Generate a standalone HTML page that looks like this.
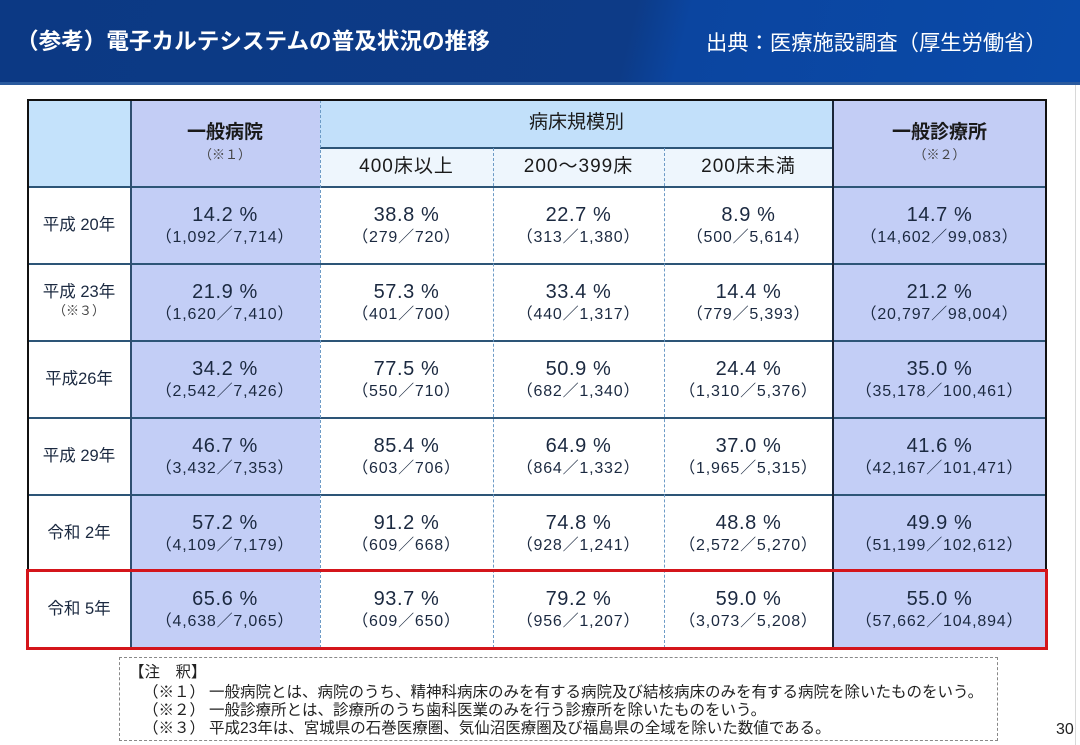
<!DOCTYPE html>
<html><head><meta charset="utf-8">
<style>
html,body{margin:0;padding:0}
body{width:1080px;height:745px;position:relative;overflow:hidden;background:#fff;font-family:"Liberation Sans","Noto Sans CJK JP",sans-serif;}
.a{position:absolute}
.hdr{left:0;top:0;width:1080px;height:82px;background:linear-gradient(104deg,#0c3984 0%,#0d3b87 58%,#0b45a0 63%,#0a4aa8 100%);}
.hdr2{left:0;top:82px;width:1080px;height:3px;background:#2a5a9e}
.title{left:16px;top:27px;font-size:22.6px;font-weight:bold;color:#fff;line-height:30px;white-space:nowrap}
.src{left:706px;top:29px;font-size:21.3px;color:#fff;line-height:28px;white-space:nowrap}
.bg{position:absolute}
.c{position:absolute;text-align:center;color:#1b2940;height:77px}
.p{position:absolute;left:0;right:0;top:17px;font-size:20px;line-height:22px;letter-spacing:0.6px;white-space:nowrap}
.f{position:absolute;left:0;right:0;top:41px;font-size:16px;line-height:20px;letter-spacing:0.8px;white-space:nowrap}
.y{position:absolute;left:28px;width:102px;text-align:center;color:#1b2940;font-size:16.5px;white-space:nowrap}
.hl{position:absolute;height:2px;background:#2d5577}
.dv{position:absolute;width:0;border-left:1px dashed #6d9bc6}
.note{font-size:15.5px;color:#222;white-space:nowrap;line-height:18px}
</style></head><body>
<div class="a hdr"></div>
<div class="a hdr2"></div>
<div class="a title">（参考）電子カルテシステムの普及状況の推移</div>
<div class="a src">出典：医療施設調査（厚生労働省）</div>
<div class="a" style="left:1075px;top:85px;width:1px;height:660px;background:#d8d8d8"></div>

<!-- header backgrounds -->
<div class="bg" style="left:28px;top:100px;width:102px;height:87px;background:#c4e2fb"></div>
<div class="bg" style="left:130px;top:100px;width:190px;height:87px;background:#c3cdf5"></div>
<div class="bg" style="left:320px;top:100px;width:513px;height:48px;background:#c2e0fa"></div>
<div class="bg" style="left:320px;top:148px;width:513px;height:39px;background:#eef6fd"></div>
<div class="bg" style="left:833px;top:100px;width:213px;height:87px;background:#c3cdf5"></div>
<!-- data column backgrounds -->
<div class="bg" style="left:130px;top:187px;width:190px;height:461px;background:#c3cef6"></div>
<div class="bg" style="left:833px;top:187px;width:213px;height:461px;background:#c3cef6"></div>

<!-- header text -->
<div class="a" style="left:130px;width:190px;top:120px;text-align:center;font-size:19px;font-weight:bold;color:#1a1a1a;line-height:26px">一般病院</div>
<div class="a" style="left:130px;width:190px;top:147px;text-align:center;font-size:13px;color:#444;line-height:16px">（※１）</div>
<div class="a" style="left:833px;width:213px;top:120px;text-align:center;font-size:19px;font-weight:bold;color:#1a1a1a;line-height:26px">一般診療所</div>
<div class="a" style="left:833px;width:213px;top:147px;text-align:center;font-size:13px;color:#444;line-height:16px">（※２）</div>
<div class="a" style="left:320px;width:513px;top:110px;text-align:center;font-size:19px;color:#1a1a1a;line-height:26px">病床規模別</div>
<div class="a" style="left:320px;width:173px;top:154px;text-align:center;font-size:19px;color:#1a1a1a;line-height:26px;letter-spacing:1px">400床以上</div>
<div class="a" style="left:493px;width:171px;top:154px;text-align:center;font-size:19px;color:#1a1a1a;line-height:26px;letter-spacing:1px">200～399床</div>
<div class="a" style="left:664px;width:169px;top:154px;text-align:center;font-size:19px;color:#1a1a1a;line-height:26px;letter-spacing:1px">200床未満</div>

<!-- year labels -->
<div class="y" style="top:214px;line-height:22px">平成 20年</div>
<div class="y" style="top:281px;line-height:22px">平成 23年</div>
<div class="y" style="top:302px;line-height:18px;font-size:13px;color:#444">（※３）</div>
<div class="y" style="top:368px;line-height:22px">平成26年</div>
<div class="y" style="top:445px;line-height:22px">平成 29年</div>
<div class="y" style="top:522px;line-height:22px">令和 2年</div>
<div class="y" style="top:598px;line-height:22px">令和 5年</div>

<!-- row 1 -->
<div class="c" style="top:187px;left:130px;width:190px"><div class="p">14.2 %</div><div class="f">（1,092／7,714）</div></div>
<div class="c" style="top:187px;left:320px;width:173px"><div class="p">38.8 %</div><div class="f">（279／720）</div></div>
<div class="c" style="top:187px;left:493px;width:171px"><div class="p">22.7 %</div><div class="f">（313／1,380）</div></div>
<div class="c" style="top:187px;left:664px;width:169px"><div class="p">8.9 %</div><div class="f">（500／5,614）</div></div>
<div class="c" style="top:187px;left:833px;width:213px"><div class="p">14.7 %</div><div class="f">（14,602／99,083）</div></div>
<!-- row 2 -->
<div class="c" style="top:264px;left:130px;width:190px"><div class="p">21.9 %</div><div class="f">（1,620／7,410）</div></div>
<div class="c" style="top:264px;left:320px;width:173px"><div class="p">57.3 %</div><div class="f">（401／700）</div></div>
<div class="c" style="top:264px;left:493px;width:171px"><div class="p">33.4 %</div><div class="f">（440／1,317）</div></div>
<div class="c" style="top:264px;left:664px;width:169px"><div class="p">14.4 %</div><div class="f">（779／5,393）</div></div>
<div class="c" style="top:264px;left:833px;width:213px"><div class="p">21.2 %</div><div class="f">（20,797／98,004）</div></div>
<!-- row 3 -->
<div class="c" style="top:341px;left:130px;width:190px"><div class="p">34.2 %</div><div class="f">（2,542／7,426）</div></div>
<div class="c" style="top:341px;left:320px;width:173px"><div class="p">77.5 %</div><div class="f">（550／710）</div></div>
<div class="c" style="top:341px;left:493px;width:171px"><div class="p">50.9 %</div><div class="f">（682／1,340）</div></div>
<div class="c" style="top:341px;left:664px;width:169px"><div class="p">24.4 %</div><div class="f">（1,310／5,376）</div></div>
<div class="c" style="top:341px;left:833px;width:213px"><div class="p">35.0 %</div><div class="f">（35,178／100,461）</div></div>
<!-- row 4 -->
<div class="c" style="top:418px;left:130px;width:190px"><div class="p">46.7 %</div><div class="f">（3,432／7,353）</div></div>
<div class="c" style="top:418px;left:320px;width:173px"><div class="p">85.4 %</div><div class="f">（603／706）</div></div>
<div class="c" style="top:418px;left:493px;width:171px"><div class="p">64.9 %</div><div class="f">（864／1,332）</div></div>
<div class="c" style="top:418px;left:664px;width:169px"><div class="p">37.0 %</div><div class="f">（1,965／5,315）</div></div>
<div class="c" style="top:418px;left:833px;width:213px"><div class="p">41.6 %</div><div class="f">（42,167／101,471）</div></div>
<!-- row 5 -->
<div class="c" style="top:495px;left:130px;width:190px"><div class="p">57.2 %</div><div class="f">（4,109／7,179）</div></div>
<div class="c" style="top:495px;left:320px;width:173px"><div class="p">91.2 %</div><div class="f">（609／668）</div></div>
<div class="c" style="top:495px;left:493px;width:171px"><div class="p">74.8 %</div><div class="f">（928／1,241）</div></div>
<div class="c" style="top:495px;left:664px;width:169px"><div class="p">48.8 %</div><div class="f">（2,572／5,270）</div></div>
<div class="c" style="top:495px;left:833px;width:213px"><div class="p">49.9 %</div><div class="f">（51,199／102,612）</div></div>
<!-- row 6 -->
<div class="c" style="top:571px;left:130px;width:190px"><div class="p">65.6 %</div><div class="f">（4,638／7,065）</div></div>
<div class="c" style="top:571px;left:320px;width:173px"><div class="p">93.7 %</div><div class="f">（609／650）</div></div>
<div class="c" style="top:571px;left:493px;width:171px"><div class="p">79.2 %</div><div class="f">（956／1,207）</div></div>
<div class="c" style="top:571px;left:664px;width:169px"><div class="p">59.0 %</div><div class="f">（3,073／5,208）</div></div>
<div class="c" style="top:571px;left:833px;width:213px"><div class="p">55.0 %</div><div class="f">（57,662／104,894）</div></div>

<!-- lines -->
<div class="hl" style="left:320px;top:147px;width:513px"></div>
<div class="hl" style="left:28px;top:186px;width:1018px"></div>
<div class="hl" style="left:28px;top:263px;width:1018px"></div>
<div class="hl" style="left:28px;top:340px;width:1018px"></div>
<div class="hl" style="left:28px;top:417px;width:1018px"></div>
<div class="hl" style="left:28px;top:494px;width:1018px"></div>
<div class="hl" style="left:28px;top:570px;width:1018px"></div>
<div class="a" style="left:130px;top:100px;width:2px;height:548px;background:#2f4f70"></div>
<div class="dv" style="left:320px;top:100px;height:548px"></div>
<div class="dv" style="left:493px;top:148px;height:500px"></div>
<div class="dv" style="left:664px;top:148px;height:500px"></div>
<div class="a" style="left:832px;top:100px;width:2px;height:548px;background:#1a2638"></div>
<div class="a" style="left:28px;top:99px;width:1019px;height:2px;background:#111"></div>
<div class="a" style="left:27px;top:99px;width:2px;height:551px;background:#111"></div>
<div class="a" style="left:1045px;top:99px;width:2px;height:551px;background:#111"></div>
<div class="a" style="left:27px;top:647px;width:1020px;height:2px;background:#111"></div>
<!-- red box -->
<div class="a" style="left:26px;top:569px;width:1022px;height:81px;box-sizing:border-box;border:3px solid #d4151b"></div>

<!-- notes -->
<div class="a" style="left:119px;top:657px;width:879px;height:84px;box-sizing:border-box;border:1px dashed #888"></div>
<div class="a note" style="left:129px;top:664px">【注　釈】</div>
<div class="a note" style="left:143px;top:684px">（※１）</div>
<div class="a note" style="left:209px;top:684px">一般病院とは、病院のうち、精神科病床のみを有する病院及び結核病床のみを有する病院を除いたものをいう。</div>
<div class="a note" style="left:143px;top:702px">（※２）</div>
<div class="a note" style="left:209px;top:702px">一般診療所とは、診療所のうち歯科医業のみを行う診療所を除いたものをいう。</div>
<div class="a note" style="left:143px;top:720px">（※３）</div>
<div class="a note" style="left:209px;top:720px">平成23年は、宮城県の石巻医療圏、気仙沼医療圏及び福島県の全域を除いた数値である。</div>
<div class="a" style="left:1056px;top:720px;font-size:16px;color:#222;line-height:20px">30</div>
</body></html>
